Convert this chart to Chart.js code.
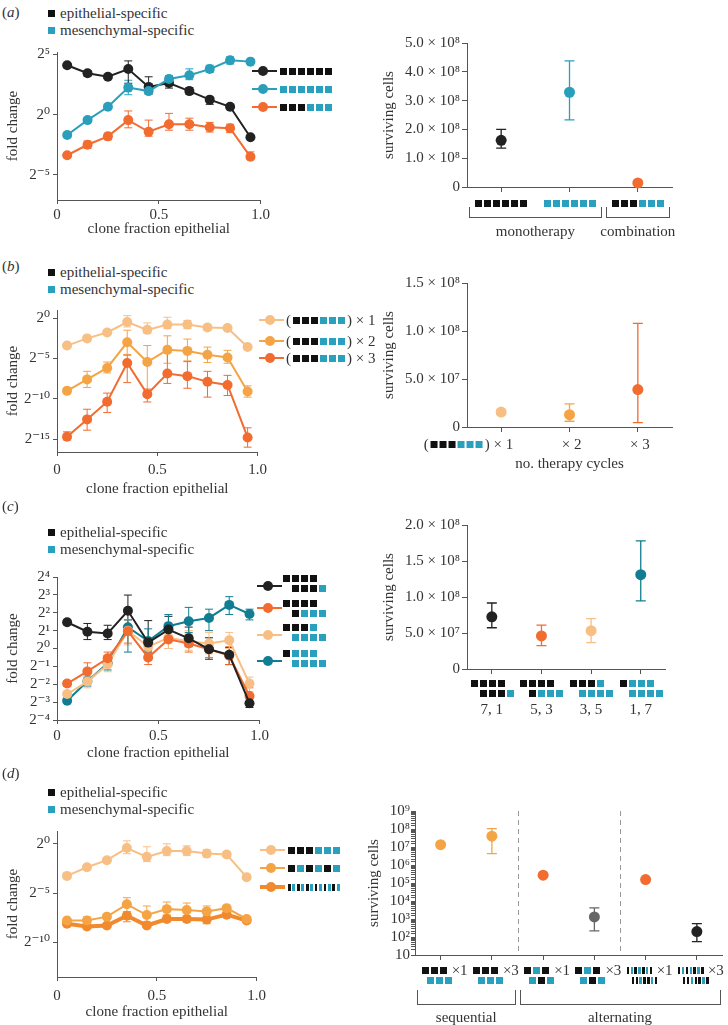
<!DOCTYPE html>
<html>
<head>
<meta charset="utf-8">
<title>fold change and surviving cells</title>
<script src="https://cdn.jsdelivr.net/npm/chart.js@4.4.1/dist/chart.umd.min.js"></script>
<style>
  body { margin: 0; background: #fff; }
  #page { position: relative; width: 728px; height: 1025px; overflow: hidden;
          font-family: "Liberation Serif", "DejaVu Serif", serif; font-size: 15px; color: #333; }
  #page canvas, .t, .g, .k, .br, .sq { position: absolute; }
  .t { white-space: nowrap; line-height: 18px; }
  .g, .gi { font-size: 0; line-height: 0; white-space: nowrap; }
  .gi { display: inline-block; vertical-align: middle; margin: 0 2px; position: relative; top: -1px; }
  .g i, .gi i { display: inline-block; vertical-align: top; }
  .g i:last-child, .gi i:last-child { margin-right: 0 !important; }
  .br { border: 1px solid #555; border-top: none; box-sizing: border-box; }
</style>
</head>
<body>
<div id="page"></div>
<script>
// x positions shared by every left panel
const cloneFraction = [0.05, 0.15, 0.25, 0.35, 0.45, 0.55, 0.65, 0.75, 0.85, 0.95];
const fracTicks = [0, 0.5, 1];

// (a) log2 fold change
const aYTicks = [-5, 0, 5];
const aEpi   = [4.1, 3.43, 3.14, 3.78, 2.3, 2.62, 1.95, 1.24, 0.65, -1.89];
const aEpiLo = [3.95, 3.2, 3.0, 2.6, 1.7, 2.2, 1.7, 0.85, 0.5, -2.0];
const aEpiHi = [4.2, 3.65, 3.3, 4.46, 3.14, 2.95, 2.25, 1.45, 0.8, -1.75];
const aMes   = [-1.7, -0.46, 0.65, 2.24, 1.95, 2.95, 3.27, 3.78, 4.51, 4.4];
const aMesLo = [-1.85, -0.55, 0.45, 1.65, 1.8, 2.6, 2.9, 3.5, 4.2, 4.25];
const aMesHi = [-1.55, -0.35, 0.85, 2.85, 2.1, 3.25, 3.8, 4.1, 4.8, 4.55];
const aComb   = [-3.38, -2.51, -1.81, -0.46, -1.43, -0.81, -0.81, -1.05, -1.14, -3.51];
const aCombLo = [-3.5, -2.8, -2.1, -1.1, -1.8, -1.3, -1.3, -1.45, -1.5, -3.7];
const aCombHi = [-3.25, -2.2, -1.55, 0.3, -0.46, 0.1, -0.3, -0.65, -0.8, -3.1];

// (a) surviving cells
const aTherapies = ['EEEEEE', 'MMMMMM', 'EEEMMM'];
const aSurv   = [1.62e8, 3.29e8, 0.14e8];
const aSurvLo = [1.35e8, 2.33e8, null];
const aSurvHi = [2.0e8, 4.38e8, null];
const aSurvTicks = [0, 1e8, 2e8, 3e8, 4e8, 5e8];
const aSurvTickLabels = ['0', '1.0 × 10⁸', '2.0 × 10⁸', '3.0 × 10⁸', '4.0 × 10⁸', '5.0 × 10⁸'];
const aGroups = [['monotherapy', 0, 1], ['combination', 2, 2]];

// (b) log2 fold change, 1-3 therapy cycles
const bYTicks = [-15, -10, -5, 0];
const bX1   = [-3.41, -2.52, -1.79, -0.49, -1.46, -0.81, -0.81, -1.18, -1.22, -3.58];
const bX1Lo = [-3.6, -2.8, -2.05, -1.1, -1.9, -1.3, -1.3, -1.5, -1.45, -3.8];
const bX1Hi = [-3.2, -2.25, -1.55, 0.3, -0.6, 0.1, -0.3, -0.85, -1.0, -3.3];
const bX2   = [-9.02, -7.6, -6.18, -3.0, -5.45, -3.94, -4.07, -4.55, -4.88, -9.1];
const bX2Lo = [-9.35, -8.6, -6.8, -4.5, -9.6, -5.6, -5.3, -5.5, -5.6, -9.8];
const bX2Hi = [-8.7, -6.6, -5.45, -1.5, -3.4, -2.2, -2.6, -3.6, -4.0, -8.4];
const bX3   = [-14.7, -12.56, -10.37, -5.57, -9.43, -6.87, -7.2, -7.89, -8.29, -14.8];
const bX3Lo = [-15.1, -13.9, -11.7, -8.0, -10.4, -8.1, -8.7, -9.8, -9.6, -16.0];
const bX3Hi = [-14.1, -11.3, -9.3, -4.6, -8.8, -4.3, -5.4, -6.6, -7.1, -13.6];

// (b) surviving cells
const bCycles = ['× 1', '× 2', '× 3'];
const bSurv   = [1.55e7, 1.28e7, 3.9e7];
const bSurvLo = [1.3e7, 0.6e7, 0.45e7];
const bSurvHi = [1.75e7, 2.4e7, 10.8e7];
const bSurvTicks = [0, 5e7, 1e8, 1.5e8];
const bSurvTickLabels = ['0', '5.0 × 10⁷', '1.0 × 10⁸', '1.5 × 10⁸'];

// (c) log2 fold change, unequal schedules
const cYTicks = [-4, -3, -2, -1, 0, 1, 2, 3, 4];
const c71   = [1.47, 0.94, 0.84, 2.11, 0.33, 1.06, 0.57, -0.04, -0.35, -3.06];
const c71Lo = [1.35, 0.5, 0.5, 1.3, -0.2, 0.5, 0.1, -0.6, -0.9, -3.3];
const c71Hi = [1.6, 1.4, 1.3, 2.99, 1.56, 1.8, 1.2, 0.6, 0.05, -2.8];
const c53   = [-1.96, -1.28, -0.55, 0.97, -0.5, 0.51, 0.28, -0.04, -0.4, -2.66];
const c53Lo = [-2.1, -1.7, -0.9, 0.3, -0.9, 0.0, -0.2, -0.5, -0.9, -3.0];
const c53Hi = [-1.8, -0.8, -0.2, 1.6, 0.4, 1.2, 0.8, 0.4, 0.1, -2.2];
const c35   = [-2.55, -1.85, -0.9, 1.0, 0.1, 0.6, 0.4, 0.28, 0.46, -1.96];
const c35Lo = [-2.7, -2.2, -1.3, 0.2, -0.3, 0.0, -0.1, -0.3, 0.0, -2.4];
const c35Hi = [-2.4, -1.5, -0.5, 1.6, 0.6, 1.3, 1.0, 0.9, 0.9, -1.6];
const c17   = [-2.92, -1.83, -0.83, 1.19, 0.42, 1.25, 1.52, 1.71, 2.44, 1.93];
const c17Lo = [-3.05, -2.1, -1.2, -0.2, -0.1, 0.7, 0.9, 1.0, 1.9, 1.6];
const c17Hi = [-2.8, -1.6, -0.4, 1.6, 1.1, 1.9, 2.3, 2.2, 2.9, 2.2];

// (c) surviving cells
const cRatios = ['7, 1', '5, 3', '3, 5', '1, 7'];
const cSchedules = [['EEEE', 'EEEM'], ['EEEE', 'EMMM'], ['EEEM', 'MMMM'], ['EMMM', 'MMMM']];
const cSurv   = [0.725e8, 0.459e8, 0.532e8, 1.31e8];
const cSurvLo = [0.573e8, 0.326e8, 0.367e8, 0.945e8];
const cSurvHi = [0.917e8, 0.61e8, 0.70e8, 1.78e8];
const cSurvTicks = [0, 5e7, 1e8, 1.5e8, 2e8];
const cSurvTickLabels = ['0', '5.0 × 10⁷', '1.0 × 10⁸', '1.5 × 10⁸', '2.0 × 10⁸'];

// (d) log2 fold change, sequential vs alternating
const dYTicks = [-10, -5, 0];
const dSeq   = [-3.25, -2.38, -1.66, -0.43, -1.32, -0.73, -0.73, -0.99, -1.09, -3.38];
const dSeqLo = [-3.4, -2.6, -1.8, -1.0, -1.8, -1.2, -1.2, -1.3, -1.3, -3.6];
const dSeqHi = [-3.1, -2.1, -1.5, 0.3, -0.3, 0.0, -0.2, -0.6, -0.8, -3.1];
const dAlt   = [-7.78, -7.78, -7.38, -6.13, -7.22, -6.62, -6.72, -6.85, -6.52, -7.62];
const dAltLo = [-8.0, -8.1, -7.6, -6.9, -7.9, -7.2, -7.4, -7.5, -6.8, -7.9];
const dAltHi = [-7.6, -7.4, -7.2, -5.46, -6.3, -5.9, -6.0, -6.3, -6.3, -7.4];
const dFast   = [-8.11, -8.38, -8.28, -7.28, -8.28, -7.62, -7.62, -7.68, -7.18, -7.78];
const dFastLo = [-8.3, -8.6, -8.45, -7.9, -8.45, -7.9, -7.9, -8.1, -7.35, -8.0];
const dFastHi = [-7.9, -8.2, -8.1, -6.9, -8.1, -7.3, -7.3, -7.3, -7.0, -7.6];

// (d) surviving cells, log axis
const dRepeats = ['×1', '×3', '×1', '×3', '×1', '×3'];
const dSchedules = [['EEE', 'MMM'], ['EEE', 'MMM'], ['EME', 'MEM'], ['EME', 'MEM'],
                    ['emememe', 'eemeeme'], ['emememe', 'eemeeme']];
const dSurv   = [1.35e7, 4.0e7, 2.7e5, 1.3e3, 1.55e5, 2.0e2];
const dSurvLo = [null, 4.3e6, null, 2.2e2, null, 55];
const dSurvHi = [null, 1.05e8, null, 4.2e3, null, 5.6e2];
const dSurvTicks = [1e1, 1e2, 1e3, 1e4, 1e5, 1e6, 1e7, 1e8, 1e9];
const dSurvTickLabels = ['10', '10²', '10³', '10⁴', '10⁵', '10⁶', '10⁷', '10⁸', '10⁹'];
const dGroups = [['sequential', 0, 1], ['alternating', 2, 5]];

// colours
const AXIS = '#555';
const BLACK = '#222';
const CYAN = '#2a9fbc';
const ORANGE = '#f26b2f';
const LIGHT = '#f8bf85';
const MEDIUM = '#f5a445';
const DEEP = '#f08a2c';
const TEAL = '#117d92';
const GRAY = '#666';
const SQ_E = '#111';
const SQ_M = '#29a0bd';

Chart.defaults.font.family = '"Liberation Serif", "DejaVu Serif", serif';
Chart.defaults.font.size = 15;
Chart.defaults.color = '#333';

const page = document.getElementById('page');

const SUP = {'0': '⁰', '1': '¹', '2': '²', '3': '³', '4': '⁴', '5': '⁵', '6': '⁶', '7': '⁷', '8': '⁸', '9': '⁹', '-': '⁻'};
const sup = n => String(n).split('').map(c => SUP[c]).join('');

function canvas(x, y, w, h) {
    const cv = document.createElement('canvas');
    cv.width = w; cv.height = h;
    cv.style.left = x + 'px'; cv.style.top = y + 'px';
    cv.style.width = w + 'px'; cv.style.height = h + 'px';
    page.appendChild(cv);
    return cv;
}

function put(cls, x, y, html, css) {
    const d = document.createElement('div');
    d.className = cls;
    d.style.left = x + 'px'; d.style.top = y + 'px';
    if (css) d.style.cssText += css;
    d.innerHTML = html;
    page.appendChild(d);
    return d;
}

// little therapy squares: E = epithelial, M = mesenchymal, lower case = thin bar
function glyph(pat, thinW, thinGap) {
    return pat.split('').map(ch => {
        const thin = ch === ch.toLowerCase();
        const w = thin ? (thinW || 2.4) : 7, gap = thin ? (thinGap || 1.5) : 2;
        const col = ch.toUpperCase() === 'E' ? SQ_E : SQ_M;
        return `<i style="width:${w}px;height:7px;margin-right:${gap}px;background:${col}"></i>`;
    }).join('');
}

// error bars drawn under the markers, through the y scale
const errorBars = {
    id: 'errorBars',
    beforeDatasetsDraw(chart) {
        const ctx = chart.ctx, y = chart.scales.y;
        chart.data.datasets.forEach((ds, i) => {
            if (!ds.errLo) return;
            const meta = chart.getDatasetMeta(i);
            ctx.save();
            ctx.lineWidth = ds.errWidth || 1;
            meta.data.forEach((pt, j) => {
                if (ds.errLo[j] == null) return;
                const top = y.getPixelForValue(ds.errHi[j]);
                const bot = y.getPixelForValue(ds.errLo[j]);
                const cap = ds.errCap || 4;
                ctx.strokeStyle = Array.isArray(ds.errColor) ? ds.errColor[j] : ds.errColor;
                ctx.beginPath();
                ctx.moveTo(pt.x, top); ctx.lineTo(pt.x, bot);
                ctx.moveTo(pt.x - cap, top); ctx.lineTo(pt.x + cap, top);
                ctx.moveTo(pt.x - cap, bot); ctx.lineTo(pt.x + cap, bot);
                ctx.stroke();
            });
            ctx.restore();
        });
    }
};

// dashed dividers between therapy groups
const separators = {
    id: 'separators',
    afterDatasetsDraw(chart, args, opts) {
        if (!opts.at) return;
        const { ctx, chartArea, scales: { x } } = chart;
        ctx.save();
        ctx.strokeStyle = '#999';
        ctx.lineWidth = 1;
        ctx.setLineDash([5, 4]);
        opts.at.forEach(v => {
            const px = Math.round(x.getPixelForValue(v)) + 0.5;
            ctx.beginPath();
            ctx.moveTo(px, chartArea.top);
            ctx.lineTo(px, chartArea.bottom);
            ctx.stroke();
        });
        ctx.restore();
    }
};

function leftChart(c) {
    const top = c.areaTop - 10;
    const h = Math.round(c.titleY + 9 - top);
    const cv = canvas(0, top, 272, h);
    return new Chart(cv, {
        type: 'line',
        data: {
            datasets: c.series.map(s => ({
                data: cloneFraction.map((x, i) => ({ x: x, y: s.y[i] })),
                errLo: s.lo, errHi: s.hi, errColor: s.color, errCap: 4,
                borderColor: s.color,
                backgroundColor: s.color,
                pointBackgroundColor: s.color,
                borderWidth: s.width || 2,
                pointRadius: 5,
                pointBorderWidth: 0,
                clip: false
            }))
        },
        options: {
            animation: false,
            responsive: false,
            events: [],
            layout: { padding: { top: 10, right: 10, left: 0, bottom: 0 } },
            plugins: { legend: { display: false }, tooltip: { enabled: false } },
            scales: {
                x: {
                    type: 'linear', min: 0, max: 1,
                    afterBuildTicks: s => { s.ticks = fracTicks.map(v => ({ value: v })); },
                    afterFit: s => { s.height = h - (c.areaBottom - top); },
                    border: { color: AXIS },
                    grid: { drawOnChartArea: false, tickLength: 4, color: AXIS },
                    ticks: { padding: c.tickPad, maxRotation: 0, autoSkip: false,
                             callback: v => v === 0 ? '0' : v.toFixed(1) },
                    title: { display: true, text: 'clone fraction epithelial', padding: 0 }
                },
                y: {
                    min: c.min, max: c.max,
                    afterBuildTicks: s => { s.ticks = c.ticks.map(v => ({ value: v })); },
                    afterFit: s => { s.width = 57; },
                    border: { color: AXIS },
                    grid: { drawOnChartArea: false, tickLength: 4, color: AXIS },
                    ticks: { padding: 3, autoSkip: false, callback: v => '2' + sup(v) },
                    title: { display: true, text: 'fold change', padding: { top: 4, bottom: 0 } }
                }
            }
        },
        plugins: [errorBars]
    });
}

function rightChart(c) {
    const top = c.areaTop - 10;
    const h = c.bottom - top;
    const cv = canvas(c.left, top, c.width, h);
    const yScale = {
        type: c.log ? 'logarithmic' : 'linear',
        min: c.yMin, max: c.yMax,
        afterFit: s => { s.width = c.areaLeft - c.left; },
        border: { color: AXIS },
        grid: { drawOnChartArea: false, tickLength: c.yTickLen || 5, color: AXIS },
        ticks: {
            padding: c.yPad || 2,
            autoSkip: false,
            callback: v => {
                const k = c.yTicks.findIndex(t => Math.abs(t - v) <= t * 1e-6);
                return k < 0 ? '' : c.yLabels[k];
            }
        },
        title: { display: true, text: 'surviving cells', padding: { top: c.titlePad, bottom: 0 } }
    };
    if (!c.log) yScale.afterBuildTicks = s => { s.ticks = c.yTicks.map(v => ({ value: v })); };
    const chart = new Chart(cv, {
        type: 'line',
        data: {
            labels: c.labels,
            datasets: [{
                data: c.values,
                errLo: c.lo, errHi: c.hi, errColor: c.colors, errCap: 5, errWidth: 1.3,
                showLine: false,
                pointBackgroundColor: c.colors,
                pointRadius: 5.5,
                pointBorderWidth: 0,
                clip: false
            }]
        },
        options: {
            animation: false,
            responsive: false,
            events: [],
            layout: { padding: { top: 10, right: c.width - (c.areaRight - c.left), left: 0, bottom: 0 } },
            plugins: { legend: { display: false }, tooltip: { enabled: false }, separators: { at: c.separators } },
            scales: {
                x: {
                    type: 'category', offset: true,
                    afterFit: s => { s.height = c.bottom - c.areaBottom; },
                    border: { color: AXIS },
                    grid: { drawOnChartArea: false, tickLength: 5, color: AXIS },
                    ticks: { display: !!c.showTicks, padding: c.xPad || 3, maxRotation: 0, autoSkip: false },
                    title: { display: !!c.xTitle, text: c.xTitle || '', padding: 0 }
                },
                y: yScale
            }
        },
        plugins: [errorBars, separators]
    });
    chart.px = i => c.left + chart.scales.x.getPixelForValue(i);
    return chart;
}

function lineKey(x, y, color, width) {
    put('k', x, y - (width || 2) / 2, '', `width:25px;height:${width || 2}px;background:${color}`);
    put('k', x + 6, y - 5, '', `width:10px;height:10px;border-radius:50%;background:${color}`);
}

function typeKey(y) {
    put('sq', 48, y - 3.5, '', `width:7px;height:7px;background:${SQ_E}`);
    put('t', 60, y - 9, 'epithelial-specific');
    put('sq', 48, y + 13.5, '', `width:7px;height:7px;background:${SQ_M}`);
    put('t', 60, y + 8, 'mesenchymal-specific');
}

function brackets(chart, groups, yTop, hgt, labelY) {
    groups.forEach(([label, from, to]) => {
        const l = chart.px(from - 0.5) + 2, r = chart.px(to + 0.5) - 2;
        put('br', l, yTop, '', `width:${r - l}px;height:${hgt}px`);
        put('t', (l + r) / 2, labelY - 9, label, 'transform:translateX(-50%)');
    });
}

// ---------------- (a) ----------------
put('t', 2, 3, '(<i>a</i>)');
typeKey(13);
leftChart({
    areaTop: 50, areaBottom: 200, titleY: 229, tickPad: 2, min: -7.1, max: 5.2, ticks: aYTicks,
    series: [
        { y: aMes, lo: aMesLo, hi: aMesHi, color: CYAN },
        { y: aEpi, lo: aEpiLo, hi: aEpiHi, color: BLACK },
        { y: aComb, lo: aCombLo, hi: aCombHi, color: ORANGE }
    ]
});
[[71, BLACK, aTherapies[0]], [89, CYAN, aTherapies[1]], [107, ORANGE, aTherapies[2]]].forEach(([y, col, pat]) => {
    lineKey(252, y, col);
    put('g', 280, y - 3.5, glyph(pat));
});

const ra = rightChart({
    left: 370, width: 310, areaLeft: 467, areaRight: 672, areaTop: 42, areaBottom: 187, bottom: 240,
    titlePad: 10, labels: aTherapies, values: aSurv, lo: aSurvLo, hi: aSurvHi,
    colors: [BLACK, CYAN, ORANGE], yMin: 0, yMax: 5e8, yTicks: aSurvTicks, yLabels: aSurvTickLabels
});
aTherapies.forEach((pat, i) => put('g', ra.px(i), 199.5, glyph(pat), 'transform:translateX(-50%)'));
brackets(ra, aGroups, 207, 11, 231);

// ---------------- (b) ----------------
put('t', 2, 257, '(<i>b</i>)');
typeKey(272);
leftChart({
    areaTop: 308, areaBottom: 452, titleY: 489, tickPad: 5, min: -16.6, max: 1, ticks: bYTicks,
    series: [
        { y: bX1, lo: bX1Lo, hi: bX1Hi, color: LIGHT },
        { y: bX2, lo: bX2Lo, hi: bX2Hi, color: MEDIUM },
        { y: bX3, lo: bX3Lo, hi: bX3Hi, color: ORANGE }
    ]
});
[[320, LIGHT, bCycles[0]], [341, MEDIUM, bCycles[1]], [358, ORANGE, bCycles[2]]].forEach(([y, col, n]) => {
    lineKey(259, y, col);
    put('t', 286, y - 9, `(<span class="gi">${glyph('EEEMMM')}</span>) ${n}`);
});

const rb = rightChart({
    left: 370, width: 310, areaLeft: 467, areaRight: 672, areaTop: 282, areaBottom: 427, bottom: 473,
    titlePad: 10, labels: bCycles, values: bSurv, lo: bSurvLo, hi: bSurvHi, xTitle: 'no. therapy cycles',
    colors: [LIGHT, MEDIUM, ORANGE], yMin: 0, yMax: 1.5e8, yTicks: bSurvTicks, yLabels: bSurvTickLabels
});
bCycles.forEach((n, i) => {
    const html = i === 0 ? `(<span class="gi">${glyph('EEEMMM')}</span>) ${n}` : n;
    put('t', rb.px(i) + 12, 435, html, 'transform:translateX(-100%)');
});

// ---------------- (c) ----------------
put('t', 2, 497, '(<i>c</i>)');
typeKey(532);
leftChart({
    areaTop: 575, areaBottom: 720, titleY: 753, tickPad: 3, min: -4, max: 4, ticks: cYTicks,
    series: [
        { y: c71, lo: c71Lo, hi: c71Hi, color: BLACK },
        { y: c53, lo: c53Lo, hi: c53Hi, color: ORANGE },
        { y: c35, lo: c35Lo, hi: c35Hi, color: LIGHT },
        { y: c17, lo: c17Lo, hi: c17Hi, color: TEAL }
    ]
});
[[586, 578, BLACK], [608, 603, ORANGE], [635, 627, LIGHT], [661, 653, TEAL]].forEach(([y, gy, col], i) => {
    lineKey(257, y, col);
    put('g', 283, gy - 3.5, glyph(cSchedules[i][0]));
    put('g', 292, gy + 6.5, glyph(cSchedules[i][1]));
});

const rc = rightChart({
    left: 370, width: 310, areaLeft: 467, areaRight: 672, areaTop: 524, areaBottom: 669, bottom: 735,
    titlePad: 10, labels: cRatios, values: cSurv, lo: cSurvLo, hi: cSurvHi, showTicks: true, xPad: 27,
    colors: [BLACK, ORANGE, LIGHT, TEAL], yMin: 0, yMax: 2e8, yTicks: cSurvTicks, yLabels: cSurvTickLabels
});
cSchedules.forEach((rows, i) => {
    put('g', rc.px(i) - 21, 679.5, glyph(rows[0]));
    put('g', rc.px(i) - 12, 689.5, glyph(rows[1]));
});

// ---------------- (d) ----------------
put('t', 2, 764, '(<i>d</i>)');
typeKey(792);
leftChart({
    areaTop: 829, areaBottom: 977, titleY: 1012, tickPad: 6, min: -13.5, max: 1.3, ticks: dYTicks,
    series: [
        { y: dSeq, lo: dSeqLo, hi: dSeqHi, color: LIGHT },
        { y: dAlt, lo: dAltLo, hi: dAltHi, color: MEDIUM },
        { y: dFast, lo: dFastLo, hi: dFastHi, color: DEEP, width: 4 }
    ]
});
[[850, LIGHT, 'EEEMMM', 2], [868, MEDIUM, 'EMEMEM', 2], [887, DEEP, 'emememememem', 4]].forEach(([y, col, pat, w]) => {
    lineKey(260, y, col, w);
    put('g', 288, y - 3.5, glyph(pat, 2.8, 1.65));
});

const rd = rightChart({
    left: 360, width: 368, areaLeft: 415, areaRight: 727, areaTop: 811, areaBottom: 955, bottom: 1025,
    titlePad: 5, yTickLen: 4, yPad: 1, log: true, separators: [1.5, 3.5],
    labels: dRepeats, values: dSurv, lo: dSurvLo, hi: dSurvHi,
    colors: [MEDIUM, MEDIUM, ORANGE, GRAY, ORANGE, BLACK], yMin: 10, yMax: 1e9,
    yTicks: dSurvTicks, yLabels: dSurvTickLabels
});
dSchedules.forEach((rows, i) => {
    put('g', rd.px(i) - 19, 966.5, glyph(rows[0]));
    put('g', rd.px(i) - 14, 976.5, glyph(rows[1]));
    put('t', rd.px(i) + 11, 961, dRepeats[i]);
});
brackets(rd, dGroups, 990, 15, 1017);
</script>
</body>
</html>
